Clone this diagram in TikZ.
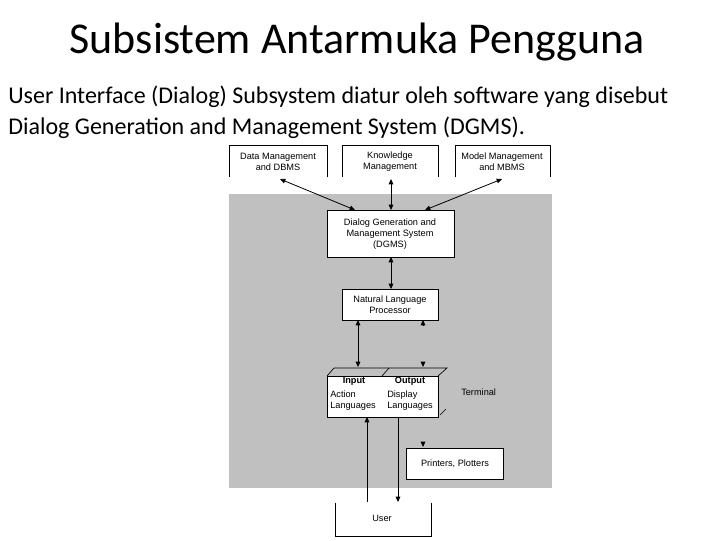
\documentclass[tikz,border=0pt]{standalone}
\usepackage{fontspec}
\setmainfont{Carlito}
\newfontfamily\diagfont{Liberation Sans}
\usetikzlibrary{arrows.meta}
\begin{document}
\begin{tikzpicture}[x=0.75pt,y=-0.75pt,
  dtext/.style={font=\diagfont\fontsize{6.9}{8.1}\selectfont, align=center, inner sep=0pt},
  btext/.style={font=\diagfont\bfseries\fontsize{6.9}{8.1}\selectfont, inner sep=0pt},
  wbox/.style={draw=black, line width=0.5pt, fill=white},
  conn/.style={line width=0.6pt, {Triangle[length=4pt,width=3.5pt]}-{Triangle[length=4pt,width=3.5pt]}},
  oneway/.style={line width=0.6pt, -{Triangle[length=4pt,width=3.5pt]}},
  edge/.style={line width=0.5pt}]
\useasboundingbox (0,0) rectangle (720,540);
\fill[white] (0,0) rectangle (720,540);
% title and text
\node[font=\fontsize{33}{40}\selectfont, inner sep=0pt] (title) at (357,42) {Subsistem Antarmuka Pengguna};
\node[font=\fontsize{18}{22}\selectfont, anchor=west, inner sep=0pt] (l1) at (8,97) {User Interface (Dialog) Subsystem diatur oleh software yang disebut};
\node[font=\fontsize{18}{22}\selectfont, anchor=west, inner sep=0pt] (l2) at (8,128) {Dialog Generation and Management System (DGMS).};
% gray area
\fill[fill={rgb,255:red,192;green,192;blue,192}] (229,194) rectangle (552,488);
% top boxes (open bottom)
\draw[edge] (229,177) -- (229,145) -- (327,145) -- (327,177);
\draw[edge] (342,177) -- (342,145) -- (438,145) -- (438,177);
\draw[edge] (455,177) -- (455,145) -- (550,145) -- (550,177);
\node[dtext] (dm) at (278,162) {Data Management\\and DBMS};
\node[dtext] (km) at (390,162) {Knowledge\\Management};
\node[dtext] (mm) at (502,162) {Model Management\\and MBMS};
\coordinate (dmb) at (280,179);
\coordinate (kmb) at (391,179);
\coordinate (mmb) at (502,179);
% DGMS
\draw[wbox] (327,210) rectangle (454,257);
\node[dtext] (dgms) at (390,234) {Dialog Generation and\\Management System\\(DGMS)};
\coordinate (dgmsL) at (355,210);
\coordinate (dgmsM) at (391,210);
\coordinate (dgmsR) at (425,210);
\coordinate (dgmsB) at (391,257);
\draw[conn] (dmb) -- (dgmsL);
\draw[conn] (kmb) -- (dgmsM);
\draw[conn] (mmb) -- (dgmsR);
% NLP
\draw[wbox] (342,289) rectangle (438,320);
\node[dtext] (nlp) at (390,305) {Natural Language\\Processor};
\coordinate (nlpT) at (391,289);
\draw[conn] (dgmsB) -- (nlpT);
\coordinate (nlpB1) at (358,320);
\coordinate (nlpB2a) at (423,320);
\coordinate (nlpB2b) at (423,325);
% Terminal
\draw[wbox] (327,376) rectangle (438,417);
\draw[edge] (327,376) -- (334,368) -- (447,368) -- (438,376);
\draw[edge] (382,376) -- (389,368);
\draw[edge] (440,415) -- (446,409);
\coordinate (inT) at (358,367);
\coordinate (outTa) at (423,362);
\coordinate (outTb) at (423,367);
\draw[conn] (nlpB1) -- (inT);
\draw[oneway] (nlpB2b) -- (nlpB2a);
\draw[oneway] (outTa) -- (outTb);
\node[btext] (inp) at (354,381.5) {Input};
\node[btext] (outp) at (410,381.5) {Output};
\node[dtext, align=left, anchor=west] (act) at (330,401) {Action\\Languages};
\node[dtext, align=left, anchor=west] (disp) at (387,401) {Display\\Languages};
\node[dtext, anchor=west] (term) at (461,392) {Terminal};
% Printers
\draw[wbox] (406,448) rectangle (503,479);
\node[dtext] (pp) at (455,464) {Printers, Plotters};
\coordinate (ppa) at (423,442);
\coordinate (ppb) at (423,447);
\draw[oneway] (ppa) -- (ppb);
% User
\draw[edge] (335,503) -- (335,536) -- (431,536) -- (431,503);
\node[dtext] (user) at (382,518) {User};
\coordinate (uin) at (367,502);
\coordinate (uout) at (398,502);
\coordinate (tb1) at (367,417);
\coordinate (tb2) at (398,417);
\draw[oneway] (uin) -- (tb1);
\draw[oneway] (tb2) -- (uout);
\end{tikzpicture}
\end{document}
